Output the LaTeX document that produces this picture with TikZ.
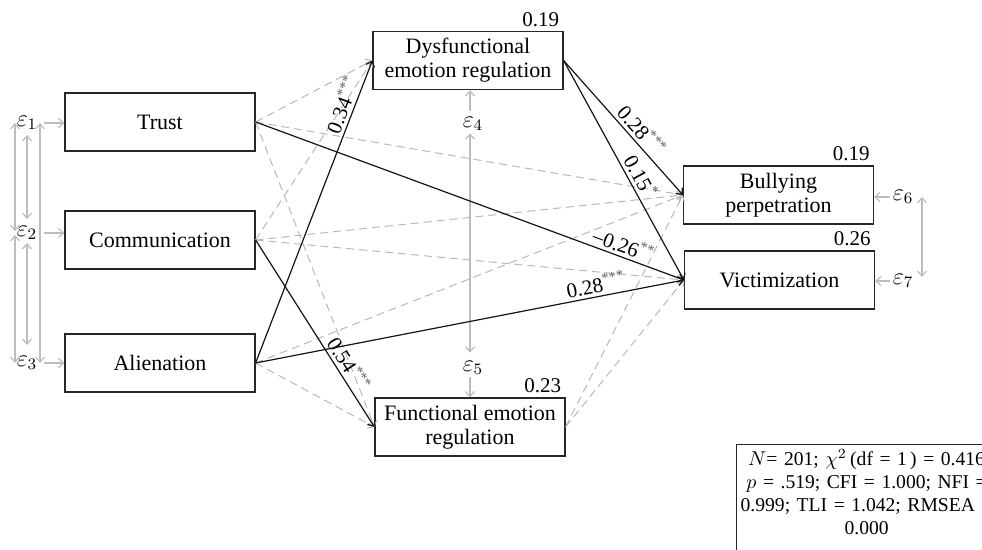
\documentclass[tikz,border=0pt]{standalone}
\usepackage{fontspec}
\setmainfont{Liberation Serif}
\usetikzlibrary{arrows.meta,calc}
\definecolor{PathClr}{rgb}{0.08,0.08,0.08}
\definecolor{NsClr}{rgb}{0.72,0.72,0.72}
\definecolor{ErrClr}{rgb}{0.74,0.74,0.74}
\definecolor{StarClr}{rgb}{0.38,0.38,0.38}
\newcommand{\coef}[2]{#1\textsuperscript{\textcolor{StarClr}{#2}}}

\begin{document}
\begin{tikzpicture}[x=0.5pt,y=-0.5pt,
  var/.style={draw=black!85,line width=0.6pt,minimum width=95pt,minimum height=29pt,
    inner sep=1pt,align=center,font=\fontsize{11}{12}\selectfont},
  err/.style={inner sep=1pt,font=\fontsize{11.5}{12}\selectfont},
  rsq/.style={anchor=south east,inner sep=2pt,font=\fontsize{10.5}{12}\selectfont},
  coefl/.style={sloped,above,inner sep=1.5pt,font=\fontsize{10.5}{12}\selectfont},
  sig/.style={->,draw=PathClr,line width=0.6pt},
  ns/.style={->,draw=NsClr,line width=0.5pt,dash pattern=on 4pt off 2.5pt},
  errarr/.style={->,draw=ErrClr,line width=0.6pt},
  covar/.style={<->,draw=ErrClr,line width=0.6pt},
  >={Straight Barb[length=2.5pt,width=4.5pt]}]
\useasboundingbox (0,0) rectangle (982,550);
\clip (0,0) rectangle (982,550);

\node[var] (Trust) at (160,122) {Trust};
\node[var] (Comm) at (160,240) {Communication};
\node[var] (Alien) at (160,363) {Alienation};
\node[var] (Dys) at (468,60.5) {Dysfunctional\\emotion regulation};
\node[var] (Func) at (470,427) {Functional emotion\\regulation};
\node[var] (Bully) at (778.5,195) {Bullying\\perpetration};
\node[var] (Vict) at (779.5,280) {Victimization};

\node[rsq] (rDys) at (Dys.north east) {0.19};
\node[rsq] (rFunc) at (Func.north east) {0.23};
\node[rsq] (rBully) at (Bully.north east) {0.19};
\node[rsq] (rVict) at (Vict.north east) {0.26};

\node[err] (e1) at (27,123) {$\varepsilon_1$};
\node[err] (e2) at (27,233) {$\varepsilon_2$};
\node[err] (e3) at (27,363) {$\varepsilon_3$};
\node[err] (e4) at (473,124) {$\varepsilon_4$};
\node[err] (e5) at (473,368) {$\varepsilon_5$};
\node[err] (e6) at (903,197) {$\varepsilon_6$};
\node[err] (e7) at (903,281) {$\varepsilon_7$};

\draw[errarr] ([xshift=2pt]e1.east) -- (e1.east -| Trust.west);
\draw[errarr] ([xshift=2pt]e2.east) -- (e2.east -| Comm.west);
\draw[errarr] ([xshift=2pt]e3.east) -- (e3.east -| Alien.west);
\draw[errarr] ([xshift=-1.5pt,yshift=2pt]e4.north) -- ([xshift=-1.5pt]e4.north |- Dys.south);
\draw[errarr] ([xshift=-1.5pt]e5.south) -- ([xshift=-1.5pt]e5.south |- Func.north);
\draw[errarr] (e6.west) -- (e6.west -| Bully.east);
\draw[errarr] (e7.west) -- (e7.west -| Vict.east);

\draw[covar] ([xshift=-6pt]e1.center) -- ([xshift=-6pt,yshift=1pt]e2.center);
\draw[covar] ([xshift=-6pt,yshift=-1pt]e2.center) -- ([xshift=-6pt]e3.center);
\draw[covar] ([yshift=-6pt]e1.center) -- ([yshift=7pt]e2.center);
\draw[covar] ([yshift=-5pt]e2.center) -- ([yshift=9pt]e3.center);
\draw[covar] ([xshift=6.5pt]e1.center) -- ([xshift=6.5pt]e3.center);
\draw[covar] ([xshift=-1.5pt]e4.south) -- ([xshift=-1.5pt,yshift=3pt]e5.north);
\draw[covar] ([xshift=9.5pt]e6.center) -- ([xshift=9.5pt,yshift=2pt]e7.center);

\foreach \from/\to in {Trust/Dys,Trust/Func,Trust/Bully,Comm/Dys,Comm/Bully,
    Comm/Vict,Alien/Bully,Alien/Func,Func/Bully,Func/Vict}
  \draw[ns] (\from.east) -- (\to.west);

\draw[sig] (Alien.east) -- node[coefl,pos=0.84] (l1) {\coef{0.34}{***}} (Dys.west);
\draw[sig] (Trust.east) -- node[coefl,pos=0.85] (l2) {\coef{--0.26}{**}} (Vict.west);
\draw[sig] (Comm.east) -- node[coefl,pos=0.7] (l3) {\coef{0.54}{***}} (Func.west);
\draw[sig] (Alien.east) -- node[coefl,pos=0.8] (l4) {\coef{0.28}{***}} (Vict.west);
\draw[sig] (Dys.east) -- node[coefl,pos=0.58] (l5) {\coef{0.28}{***}} (Bully.west);
\draw[sig] (Dys.east) -- node[coefl,pos=0.555] (l6) {\coef{0.15}{*}} (Vict.west);

\node[draw=black!85,line width=0.6pt,anchor=north west,align=center,text width=128pt,
  inner xsep=1pt,inner ysep=2.5pt,text depth=48pt,
  font=\fontsize{9.8}{11.5}\selectfont] (fit) at (736,444)
  {$N$= 201; $\chi^2$\,(df = 1\,) = 0.416\\
   $p$ = .519; CFI = 1.000; NFI =\\
   0.999; TLI = 1.042; RMSEA =\\
   0.000};

\end{tikzpicture}
\end{document}
